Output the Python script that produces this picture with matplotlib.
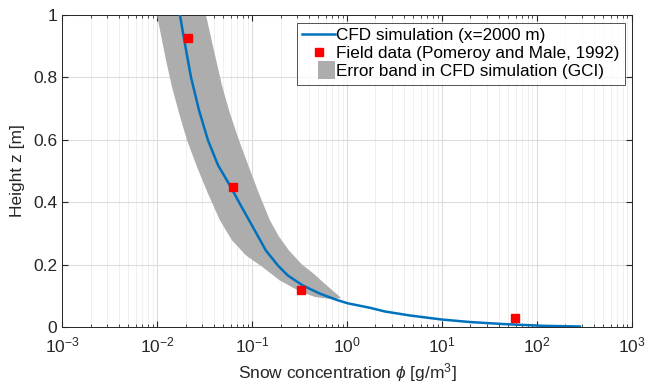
import matplotlib
matplotlib.use("Agg")
import matplotlib.pyplot as plt
import matplotlib.patches as mpatches
from matplotlib.legend_handler import HandlerPatch
import numpy as np
from matplotlib.ticker import LogLocator, FixedLocator

plt.rcParams["font.family"] = ["Liberation Sans", "DejaVu Sans"]
plt.rcParams["mathtext.fontset"] = "custom"
plt.rcParams["mathtext.rm"] = "Liberation Sans"
plt.rcParams["mathtext.it"] = "Liberation Sans:italic"

# CFD simulation profile (x=2000 m)
cfd_conc = [0.01746, 0.0192, 0.0228, 0.0277, 0.0344, 0.0439, 0.0601, 0.0730, 0.1025,
            0.140, 0.188, 0.239, 0.344, 0.52, 0.78, 1.02, 1.75, 2.51, 4.6, 10,
            19.7, 43.9, 115, 284]
cfd_z = [1.0, 0.926, 0.801, 0.695, 0.599, 0.519, 0.448, 0.40, 0.32,
         0.2456, 0.197, 0.165, 0.133, 0.107, 0.087, 0.076, 0.0616, 0.0498, 0.037, 0.024,
         0.016, 0.0096, 0.0039, 0.0016]

# field data (Pomeroy and Male, 1992)
field_conc = [0.0212, 0.063, 0.33, 59]
field_z = [0.925, 0.45, 0.12, 0.029]

# GCI error band, upper (right) edge
band_hi_conc = [0.0328, 0.0408, 0.0483, 0.0586, 0.073, 0.0929, 0.1185, 0.1545, 0.192,
                0.245, 0.336, 0.45, 0.573, 0.695, 0.804, 0.865]
band_hi_z = [1.0, 0.872, 0.775, 0.685, 0.599, 0.513, 0.428, 0.342, 0.2905,
             0.2456, 0.2006, 0.1701, 0.1412, 0.1188, 0.1027, 0.093]
# GCI error band, lower (left) edge
band_lo_conc = [0.0100, 0.01245, 0.0144, 0.0171, 0.0207, 0.0264, 0.0344, 0.046, 0.0616,
                0.0865, 0.127, 0.197, 0.32, 0.46, 0.713]
band_lo_z = [1.0, 0.855, 0.769, 0.685, 0.599, 0.513, 0.428, 0.342, 0.278,
             0.2295, 0.194, 0.149, 0.114, 0.0963, 0.0883]


def narrow_patch(legend, orig_handle, xdescent, ydescent, width, height, fontsize):
    return mpatches.Rectangle((-xdescent + width * 0.48, -ydescent - height * 0.25),
                              width * 0.52, height * 1.5)


fig = plt.figure(figsize=(6.46, 3.9), dpi=100)
ax = fig.add_axes([0.096, 0.1615, 0.882, 0.8])

poly_x = band_hi_conc + band_lo_conc[::-1]
poly_y = band_hi_z + band_lo_z[::-1]
ax.fill(poly_x, poly_y, color="#adadad", lw=0,
        label="Error band in CFD simulation (GCI)", zorder=2)
ax.plot(cfd_conc, cfd_z, color="#0072BD", lw=1.8, label="CFD simulation (x=2000 m)", zorder=3)
ax.plot(field_conc, field_z, "s", color="#ff0000", ms=5.8, mec="#ff0000",
        label="Field data (Pomeroy and Male, 1992)", zorder=4)

ax.set_xscale("log")
ax.set_xlim(1e-3, 1e3)
ax.set_ylim(0, 1)
ax.xaxis.set_major_locator(FixedLocator([1e-3, 1e-2, 1e-1, 1e0, 1e1, 1e2, 1e3]))
ax.xaxis.set_minor_locator(LogLocator(base=10, subs=np.arange(2, 10), numticks=100))
ax.yaxis.set_major_locator(FixedLocator([0, 0.2, 0.4, 0.6, 0.8, 1]))
ax.set_yticklabels(["0", "0.2", "0.4", "0.6", "0.8", "1"])

ax.grid(True, which="major", color="#dcdcdc", lw=0.8)
ax.grid(True, which="minor", axis="x", color="#ececec", lw=0.6)
ax.set_axisbelow(True)
ax.tick_params(which="both", direction="in", top=True, right=True, colors="#262626",
               labelsize=12.5)
ax.tick_params(axis="x", which="major", pad=6)
ax.tick_params(which="major", length=4)
ax.tick_params(which="minor", length=2.5)
for s in ax.spines.values():
    s.set_color("#262626")
    s.set_linewidth(0.7)

ax.set_xlabel("Snow concentration $\\phi$ [g/m$^3$]", fontsize=12.5, color="#262626", labelpad=4)
ax.set_ylabel("Height z [m]", fontsize=12.5, color="#262626", labelpad=6)

h, l = ax.get_legend_handles_labels()
order = [1, 2, 0]
leg = ax.legend([h[i] for i in order], [l[i] for i in order], loc="upper right",
                fontsize=12.3, frameon=True, fancybox=False, edgecolor="#262626",
                borderpad=0.3, labelspacing=0.18, handlelength=1.9, handletextpad=0.1,
                borderaxespad=0.0, bbox_to_anchor=(0.988, 0.974), numpoints=1,
                handler_map={mpatches.Polygon: HandlerPatch(patch_func=narrow_patch)})
leg.get_frame().set_linewidth(0.7)

fig.savefig("out.png", dpi=100)
